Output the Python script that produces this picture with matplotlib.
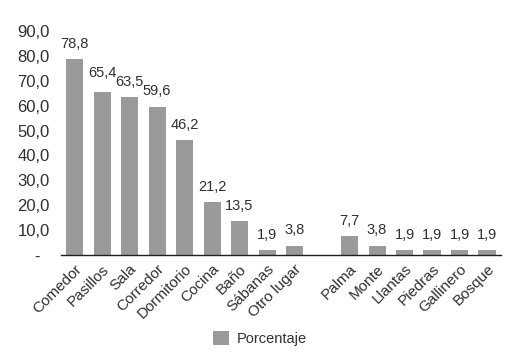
import numpy as np
import matplotlib
matplotlib.use("Agg")
import matplotlib.pyplot as plt
from matplotlib.ticker import FuncFormatter

# ── Data ─────────────────────────────────────────────────────────────────── #
places_in   = ["Comedor", "Pasillos", "Sala", "Corredor", "Dormitorio",
               "Cocina", "Baño", "Sábanas", "Otro lugar"]
values_in   = [78.8, 65.4, 63.5, 59.6, 46.2, 21.2, 13.5, 1.9, 3.8]
places_out  = ["Palma", "Monte", "Llantas", "Piedras", "Gallinero", "Bosque"]
values_out  = [7.7, 3.8, 1.9, 1.9, 1.9, 1.9]
y_ticks     = [0, 10, 20, 30, 40, 50, 60, 70, 80, 90]

BAR   = "#9a9a9a"
TEXT  = "#303030"

plt.rcParams["font.family"] = ["Liberation Sans", "DejaVu Sans"]

# one empty slot between the two groups
x_in  = np.arange(len(places_in))
x_out = np.arange(len(places_out)) + len(places_in) + 1
xs     = np.concatenate([x_in, x_out])
labels = places_in + places_out
vals   = values_in + values_out

fig = plt.figure(figsize=(5.2, 3.62), dpi=100)
ax = fig.add_axes([0.117, 0.2956, 0.846, 0.6184])

bars = ax.bar(xs, vals, width=0.62, color=BAR, label="Porcentaje")
for i, (x, v) in enumerate(zip(xs, vals)):
    lift = 6 if i != 1 else 9   # "65,4" sits higher to clear "63,5"
    ax.annotate(f"{v:.1f}".replace(".", ","), (x, v), xytext=(0, lift),
                textcoords="offset points", ha="center", va="bottom",
                fontsize=10.5, color=TEXT)

ax.set_xlim(-0.5, len(places_in) + len(places_out) + 0.5)
ax.set_ylim(0, 90)
ax.set_yticks(y_ticks)
ax.yaxis.set_major_formatter(FuncFormatter(
    lambda v, _: "-  " if v == 0 else f"{v:.1f}".replace(".", ",")))
ax.set_xticks(xs)
ax.set_xticklabels(labels, rotation=45, ha="right", rotation_mode="anchor")
ax.tick_params(axis="both", length=0, labelcolor=TEXT)
ax.tick_params(axis="x", pad=5, labelsize=11)
ax.tick_params(axis="y", pad=8, labelsize=12)

for side in ["top", "right", "left"]:
    ax.spines[side].set_visible(False)
ax.spines["bottom"].set_color("#202020")
ax.spines["bottom"].set_linewidth(1.0)

fig.legend(handles=[bars], labels=["Porcentaje"], loc="center",
           bbox_to_anchor=(0.5, 0.066), frameon=False, fontsize=10.5,
           handlelength=1.1, handleheight=1.1, handletextpad=0.5,
           labelcolor=TEXT)

fig.savefig("out.png", dpi=100)
